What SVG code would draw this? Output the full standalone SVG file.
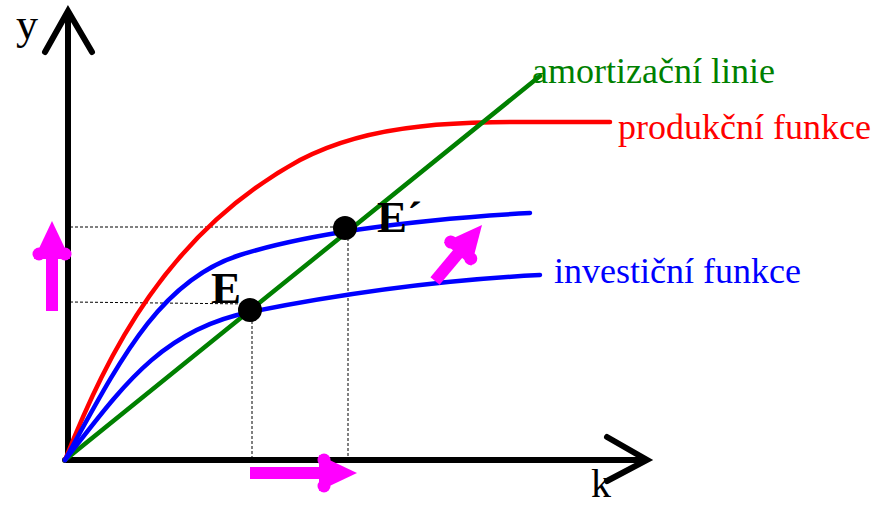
<svg xmlns="http://www.w3.org/2000/svg" width="888" height="505" viewBox="0 0 888 505">
<style>
.ax{stroke:#000;stroke-width:6;fill:none;stroke-linecap:round;stroke-linejoin:miter}
.dash{stroke:#000;stroke-width:1;stroke-dasharray:3 2;fill:none}
.crv{fill:none;stroke-width:4.5;stroke-linecap:round}
.lbl{font-family:"Liberation Serif","Times New Roman",serif;font-size:36px}
.pt{font-family:"Liberation Serif","Times New Roman",serif;font-size:45px;font-weight:bold}
.shaft{stroke:#ff00ff;stroke-width:12;stroke-linecap:butt}
</style>
<defs>
<g id="mhead" fill="#ff00ff">
<polygon points="0,0 -38,-18 -38,18"/>
<circle cx="-33" cy="-13" r="6.5"/>
<circle cx="-33" cy="13" r="6.5"/>
</g>
</defs>
<g id="axes">
<line class="ax" x1="68" y1="460" x2="68" y2="14"/>
<polyline class="ax" points="45,52 68,11 92,52"/>
<line class="ax" x1="65" y1="460" x2="644" y2="460"/>
<polyline class="ax" points="607,437 647,460 607,481"/>
<text class="lbl" x="16" y="39" style="font-size:44px">y</text>
<text class="lbl" x="591" y="497" style="font-size:40px">k</text>
</g>
<g id="guides">
<line class="dash" x1="70" y1="227" x2="344" y2="227"/>
<line class="dash" x1="70" y1="302" x2="250" y2="304"/>
<line class="dash" x1="252" y1="311" x2="252" y2="460"/>
<line class="dash" x1="348" y1="228" x2="348" y2="460"/>
</g>
<g id="connectors">
<path id="produkcni" class="crv" stroke="#ff0000" d="M65,460 C108,352 168,232 300,160 C380,118 470,122 610,122"/>
<line id="amortizacni" class="crv" stroke="#008000" x1="65" y1="460" x2="540" y2="76"/>
<path id="investicni2" class="crv" stroke="#0000ff" d="M65,460 C120,360 160,280 240,255 C300,236 400,220 530,213"/>
<path id="investicni1" class="crv" stroke="#0000ff" d="M65,460 C120,390 160,330 250,312 C340,294 440,280 540,275"/>
</g>
<g id="E">
<circle cx="250" cy="310" r="12" fill="#000"/>
<text class="pt" x="211" y="303">E</text>
</g>
<g id="E2">
<circle cx="345" cy="228" r="12" fill="#000"/>
<text class="pt" x="377" y="232">E´</text>
</g>
<g id="labels">
<text class="lbl" x="532" y="83" fill="#008000">amortizační linie</text>
<text class="lbl" x="618" y="139" fill="#ff0000">produkční funkce</text>
<text class="lbl" x="554" y="283" fill="#0000ff">investiční funkce</text>
</g>
<g id="arrow-up">
<line class="shaft" x1="52" y1="311" x2="52" y2="245"/>
<use href="#mhead" transform="translate(52,221) rotate(-90)"/>
</g>
<g id="arrow-right">
<line class="shaft" x1="250" y1="473" x2="335" y2="473"/>
<use href="#mhead" transform="translate(357,473)"/>
</g>
<g id="arrow-diag">
<line class="shaft" x1="435" y1="281" x2="466" y2="244"/>
<use href="#mhead" transform="translate(482,225) rotate(-50)"/>
</g>
</svg>
